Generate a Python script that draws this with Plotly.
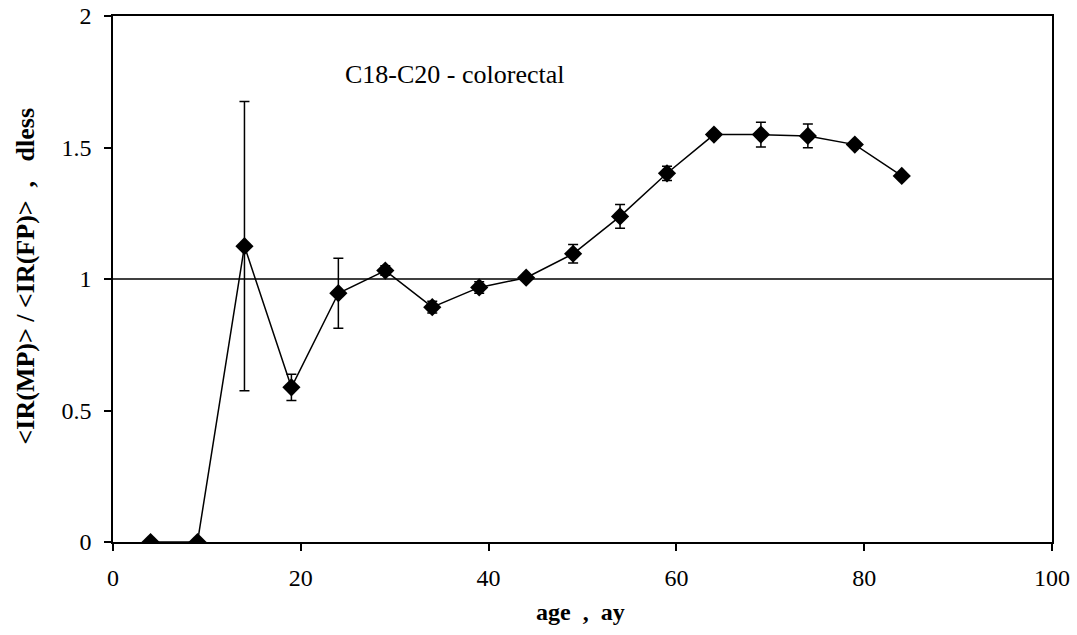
import plotly.graph_objects as go

age = [4, 9, 14, 19, 24, 29, 34, 39, 44, 49, 54, 59, 64, 69, 74, 79, 84]
ratio = [0.0, 0.0, 1.125, 0.588, 0.946, 1.032, 0.893, 0.968, 1.005, 1.096, 1.238, 1.402, 1.549, 1.549, 1.544, 1.511, 1.392]
err = [0.0, 0.0, 0.55, 0.05, 0.133, 0.018, 0.022, 0.022, 0.008, 0.035, 0.045, 0.027, 0.012, 0.047, 0.045, 0.0, 0.0]
x_ticks = [0, 20, 40, 60, 80, 100]
y_ticks = [0, 0.5, 1, 1.5, 2]
y_tick_text = ["0", "0.5", "1", "1.5", "2"]

FONT = "Liberation Serif, Times New Roman, serif"
SP = "&nbsp;"

fig = go.Figure()
fig.add_trace(go.Scatter(
    x=age, y=ratio, mode="lines+markers",
    line=dict(color="black", width=1.5),
    marker=dict(symbol="diamond", size=14, color="black"),
    error_y=dict(type="data", array=err, visible=True, color="black", thickness=1.5, width=5),
    showlegend=False,
))
fig.add_shape(type="line", xref="x", yref="y", x0=0, x1=100, y0=1, y1=1,
              line=dict(color="black", width=1.5))
fig.add_annotation(text="C18-C20 - colorectal", x=0.245, y=0.8897, xref="paper", yref="paper",
                   xanchor="left", yanchor="middle", showarrow=False,
                   font=dict(family=FONT, size=26, color="black"))
fig.add_annotation(text="<b>age" + SP * 2 + "," + SP * 2 + "ay</b>", x=0.498, y=-0.133,
                   xref="paper", yref="paper", xanchor="center", yanchor="middle", showarrow=False,
                   font=dict(family=FONT, size=24, color="black"))
fig.add_annotation(text="<b>&lt;IR(MP)&gt; / &lt;IR(FP)&gt;" + SP * 2 + "," + SP * 3 + "dless</b>",
                   x=-0.0937, y=0.5048, xref="paper", yref="paper", textangle=-90,
                   xanchor="center", yanchor="middle", showarrow=False,
                   font=dict(family=FONT, size=26, color="black"))

fig.update_layout(
    width=1077, height=635,
    margin=dict(l=113, r=25, t=16, b=93, autoexpand=False),
    paper_bgcolor="white", plot_bgcolor="white",
    font=dict(family=FONT, size=24, color="black"),
)
fig.update_xaxes(range=[-0.0001, 100.0001], tickvals=x_ticks, ticks="outside", ticklen=7,
                 tickwidth=1.5, tickcolor="black", showline=True, linecolor="black", linewidth=1.5,
                 mirror=True, showgrid=False, zeroline=False, ticklabeloverflow="allow",
                 automargin=False, ticklabelstandoff=6, tickfont=dict(family=FONT, size=24))
fig.update_yaxes(range=[-0.00001, 2.00001], tickvals=y_ticks, ticktext=y_tick_text,
                 ticks="outside", ticklen=7,
                 tickwidth=1.5, tickcolor="black", showline=True, linecolor="black", linewidth=1.5,
                 mirror=True, showgrid=False, zeroline=False, ticklabeloverflow="allow",
                 automargin=False, ticklabelstandoff=8, tickfont=dict(family=FONT, size=24))

fig.write_html("out.html")
